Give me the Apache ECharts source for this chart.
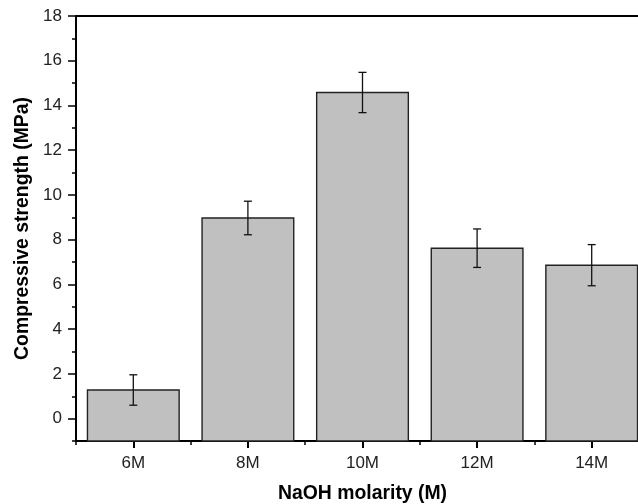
<!DOCTYPE html>
<html>
<head>
<meta charset="utf-8">
<script src="https://cdn.jsdelivr.net/npm/echarts@6/dist/echarts.min.js"></script>
<style>
html,body{margin:0;padding:0;background:#fff;}
#chart{width:638px;height:504px;}
</style>
</head>
<body>
<div id="chart"></div>
<script>
const categories = ['6M', '8M', '10M', '12M', '14M'];
const strength = [1.28, 8.97, 14.58, 7.62, 6.86];
const errorBars = [0.68, 0.75, 0.90, 0.86, 0.92];
const yTickValues = [0, 2, 4, 6, 8, 10, 12, 14, 16, 18];
const yMinorTickValues = [-1, 1, 3, 5, 7, 9, 11, 13, 15, 17];
const yMin = -1, yMax = 18;

const FONT = '"Liberation Sans", Arial, sans-serif';
const barData = categories.map((c, i) => [i, strength[i]]);
const errData = categories.map((c, i) => [i, strength[i] + errorBars[i], strength[i] - errorBars[i]]);

const chart = echarts.init(document.getElementById('chart'), null, {renderer: 'canvas'});
chart.setOption({
  animation: false,
  backgroundColor: '#fff',
  grid: {left: 76, right: -11, top: 16, bottom: 63, containLabel: false, outerBoundsMode: 'none'},
  xAxis: [
    {
      type: 'category', data: categories, position: 'bottom',
      axisLine: {show: true, onZero: false, lineStyle: {color: '#000', width: 2}},
      axisTick: {show: true, alignWithLabel: true, length: 7, lineStyle: {color: '#000', width: 2}},
      axisLabel: {show: true, margin: 14, color: '#222', fontSize: 17, fontFamily: FONT},
      name: 'NaOH molarity (M)', nameLocation: 'middle', nameGap: 43,
      nameTextStyle: {fontSize: 19.4, fontWeight: 'bold', color: '#000', fontFamily: FONT},
      splitLine: {show: false}
    },
    {
      type: 'category', data: categories, position: 'bottom', gridIndex: 0,
      axisLine: {show: false, onZero: false},
      axisTick: {show: true, alignWithLabel: false, length: 4, lineStyle: {color: '#000', width: 1.5}},
      axisLabel: {show: false}, splitLine: {show: false}
    },
    {
      type: 'category', data: categories, position: 'top', gridIndex: 0,
      axisLine: {show: true, onZero: false, lineStyle: {color: '#000', width: 2}},
      axisTick: {show: false}, axisLabel: {show: false}, splitLine: {show: false}
    }
  ],
  yAxis: [
    {
      type: 'value', min: yMin, max: yMax, interval: 1, position: 'left',
      axisLine: {show: true, onZero: false, lineStyle: {color: '#000', width: 2}},
      axisTick: {show: true, customValues: yTickValues, length: 8, lineStyle: {color: '#000', width: 1.5}},
      axisLabel: {show: true, customValues: yTickValues, margin: 14, color: '#222', fontSize: 17, fontFamily: FONT},
      splitLine: {show: false},
      name: 'Compressive strength (MPa)', nameLocation: 'middle', nameGap: 44,
      nameTextStyle: {fontSize: 19.4, fontWeight: 'bold', color: '#000', fontFamily: FONT}
    },
    {
      type: 'value', min: yMin, max: yMax, interval: 1, position: 'left',
      axisLine: {show: false, onZero: false},
      axisTick: {show: true, customValues: yMinorTickValues, length: 4, lineStyle: {color: '#000', width: 1.5}},
      axisLabel: {show: false}, splitLine: {show: false}
    }
  ],
  series: [
    {
      type: 'custom', data: barData, xAxisIndex: 0, yAxisIndex: 0, z: 2, silent: true,
      renderItem: function (params, api) {
        const x = api.value(0);
        const topPt = api.coord([x, api.value(1)]);
        const basePt = api.coord([x, yMin]);
        const bw = api.size([1, 0])[0] * 0.8;
        return {
          type: 'rect',
          shape: {x: topPt[0] - bw / 2, y: topPt[1], width: bw, height: basePt[1] - topPt[1]},
          style: {fill: '#c0c0c0', stroke: '#222', lineWidth: 1.4}
        };
      }
    },
    {
      type: 'custom', data: errData, xAxisIndex: 0, yAxisIndex: 0, z: 3, silent: true,
      renderItem: function (params, api) {
        const x = api.value(0);
        const top = api.coord([x, api.value(1)]);
        const bot = api.coord([x, api.value(2)]);
        const hw = 4;
        const style = {stroke: '#111', lineWidth: 1.3};
        return {
          type: 'group',
          children: [
            {type: 'line', shape: {x1: top[0], y1: top[1], x2: bot[0], y2: bot[1]}, style: style},
            {type: 'line', shape: {x1: top[0] - hw, y1: top[1], x2: top[0] + hw, y2: top[1]}, style: style},
            {type: 'line', shape: {x1: bot[0] - hw, y1: bot[1], x2: bot[0] + hw, y2: bot[1]}, style: style}
          ]
        };
      }
    }
  ]
});
</script>
</body>
</html>
